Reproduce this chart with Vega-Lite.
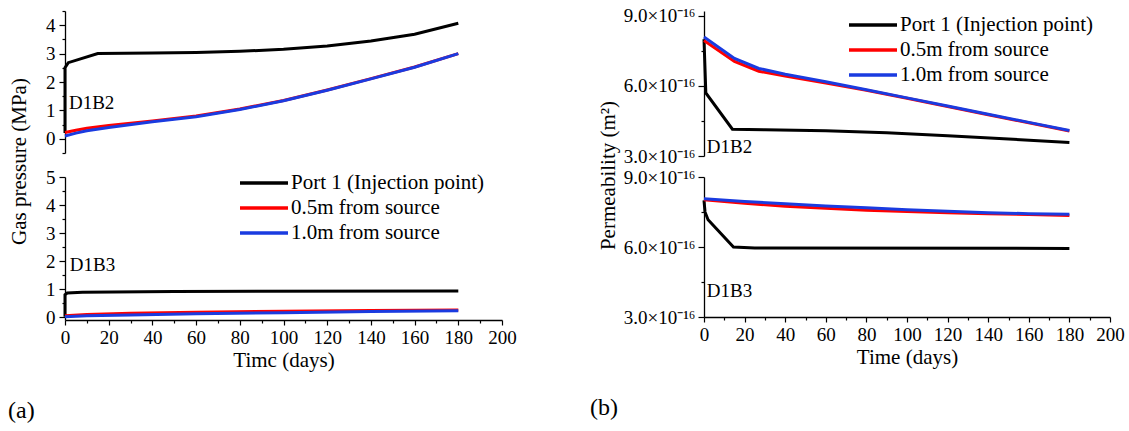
{
  "$schema": "https://vega.github.io/schema/vega-lite/v6.json",
  "padding": {"left": 8, "top": 6, "right": 5, "bottom": 5},
  "background": "white",
  "config": {
    "font": "Liberation Serif",
    "view": {"stroke": null},
    "axis": {
      "domainColor": "#000", "domainWidth": 1.3, "tickColor": "#000", "tickWidth": 1.2,
      "labelColor": "#000", "titleColor": "#000", "labelFont": "Liberation Serif", "titleFont": "Liberation Serif",
      "labelFontSize": 19, "titleFontSize": 21, "titleFontWeight": "normal", "grid": false,
      "labelFlush": false, "labelOverlap": false
    },
    "legend": {
      "orient": "none", "symbolType": "stroke", "symbolSize": 2304, "symbolStrokeWidth": 3.5,
      "labelFont": "Liberation Serif", "labelFontSize": 21, "labelColor": "#000", "labelLimit": 400,
      "clipHeight": 20, "rowPadding": 4, "labelOffset": 1, "padding": 0
    },
    "title": {"font": "Liberation Serif", "fontSize": 24, "fontWeight": "normal", "color": "#000"}
  },
  "datasets": {
    "lines": [
      {"panel": "at", "series": "Port 1 (Injection point)", "ord": 1, "day": 0, "value": 0.2},
      {"panel": "at", "series": "Port 1 (Injection point)", "ord": 2, "day": 0, "value": 2.5},
      {"panel": "at", "series": "Port 1 (Injection point)", "ord": 3, "day": 1.5, "value": 2.68},
      {"panel": "at", "series": "Port 1 (Injection point)", "ord": 4, "day": 15, "value": 3.0},
      {"panel": "at", "series": "Port 1 (Injection point)", "ord": 5, "day": 40, "value": 3.02},
      {"panel": "at", "series": "Port 1 (Injection point)", "ord": 6, "day": 60, "value": 3.04},
      {"panel": "at", "series": "Port 1 (Injection point)", "ord": 7, "day": 80, "value": 3.08},
      {"panel": "at", "series": "Port 1 (Injection point)", "ord": 8, "day": 100, "value": 3.15},
      {"panel": "at", "series": "Port 1 (Injection point)", "ord": 9, "day": 120, "value": 3.27},
      {"panel": "at", "series": "Port 1 (Injection point)", "ord": 10, "day": 140, "value": 3.44},
      {"panel": "at", "series": "Port 1 (Injection point)", "ord": 11, "day": 160, "value": 3.68},
      {"panel": "at", "series": "Port 1 (Injection point)", "ord": 12, "day": 180, "value": 4.07},
      {"panel": "at", "series": "0.5m from source", "ord": 1, "day": 0, "value": 0.22},
      {"panel": "at", "series": "0.5m from source", "ord": 2, "day": 5, "value": 0.3},
      {"panel": "at", "series": "0.5m from source", "ord": 3, "day": 10, "value": 0.37},
      {"panel": "at", "series": "0.5m from source", "ord": 4, "day": 20, "value": 0.47},
      {"panel": "at", "series": "0.5m from source", "ord": 5, "day": 40, "value": 0.63},
      {"panel": "at", "series": "0.5m from source", "ord": 6, "day": 60, "value": 0.8},
      {"panel": "at", "series": "0.5m from source", "ord": 7, "day": 80, "value": 1.05},
      {"panel": "at", "series": "0.5m from source", "ord": 8, "day": 100, "value": 1.35},
      {"panel": "at", "series": "0.5m from source", "ord": 9, "day": 120, "value": 1.72},
      {"panel": "at", "series": "0.5m from source", "ord": 10, "day": 140, "value": 2.12},
      {"panel": "at", "series": "0.5m from source", "ord": 11, "day": 160, "value": 2.53},
      {"panel": "at", "series": "0.5m from source", "ord": 12, "day": 180, "value": 3.0},
      {"panel": "at", "series": "1.0m from source", "ord": 1, "day": 0, "value": 0.1},
      {"panel": "at", "series": "1.0m from source", "ord": 2, "day": 5, "value": 0.2},
      {"panel": "at", "series": "1.0m from source", "ord": 3, "day": 10, "value": 0.28},
      {"panel": "at", "series": "1.0m from source", "ord": 4, "day": 20, "value": 0.4},
      {"panel": "at", "series": "1.0m from source", "ord": 5, "day": 40, "value": 0.6},
      {"panel": "at", "series": "1.0m from source", "ord": 6, "day": 60, "value": 0.78},
      {"panel": "at", "series": "1.0m from source", "ord": 7, "day": 80, "value": 1.03},
      {"panel": "at", "series": "1.0m from source", "ord": 8, "day": 100, "value": 1.34},
      {"panel": "at", "series": "1.0m from source", "ord": 9, "day": 120, "value": 1.71},
      {"panel": "at", "series": "1.0m from source", "ord": 10, "day": 140, "value": 2.11},
      {"panel": "at", "series": "1.0m from source", "ord": 11, "day": 160, "value": 2.52},
      {"panel": "at", "series": "1.0m from source", "ord": 12, "day": 180, "value": 3.0},

      {"panel": "ab", "series": "Port 1 (Injection point)", "ord": 1, "day": 0, "value": 0.02},
      {"panel": "ab", "series": "Port 1 (Injection point)", "ord": 2, "day": 0, "value": 0.8},
      {"panel": "ab", "series": "Port 1 (Injection point)", "ord": 3, "day": 1, "value": 0.86},
      {"panel": "ab", "series": "Port 1 (Injection point)", "ord": 4, "day": 8, "value": 0.89},
      {"panel": "ab", "series": "Port 1 (Injection point)", "ord": 5, "day": 50, "value": 0.92},
      {"panel": "ab", "series": "Port 1 (Injection point)", "ord": 6, "day": 180, "value": 0.93},
      {"panel": "ab", "series": "0.5m from source", "ord": 1, "day": 0, "value": 0.05},
      {"panel": "ab", "series": "0.5m from source", "ord": 2, "day": 10, "value": 0.1},
      {"panel": "ab", "series": "0.5m from source", "ord": 3, "day": 30, "value": 0.14},
      {"panel": "ab", "series": "0.5m from source", "ord": 4, "day": 60, "value": 0.18},
      {"panel": "ab", "series": "0.5m from source", "ord": 5, "day": 100, "value": 0.21},
      {"panel": "ab", "series": "0.5m from source", "ord": 6, "day": 140, "value": 0.24},
      {"panel": "ab", "series": "0.5m from source", "ord": 7, "day": 180, "value": 0.26},
      {"panel": "ab", "series": "1.0m from source", "ord": 1, "day": 0, "value": 0.02},
      {"panel": "ab", "series": "1.0m from source", "ord": 2, "day": 10, "value": 0.05},
      {"panel": "ab", "series": "1.0m from source", "ord": 3, "day": 30, "value": 0.08},
      {"panel": "ab", "series": "1.0m from source", "ord": 4, "day": 60, "value": 0.12},
      {"panel": "ab", "series": "1.0m from source", "ord": 5, "day": 100, "value": 0.16},
      {"panel": "ab", "series": "1.0m from source", "ord": 6, "day": 140, "value": 0.2},
      {"panel": "ab", "series": "1.0m from source", "ord": 7, "day": 180, "value": 0.23},

      {"panel": "bt", "series": "Port 1 (Injection point)", "ord": 1, "day": 0, "value": 8.0e-16},
      {"panel": "bt", "series": "Port 1 (Injection point)", "ord": 2, "day": 0.9, "value": 5.7e-16},
      {"panel": "bt", "series": "Port 1 (Injection point)", "ord": 3, "day": 14, "value": 4.15e-16},
      {"panel": "bt", "series": "Port 1 (Injection point)", "ord": 4, "day": 30, "value": 4.12e-16},
      {"panel": "bt", "series": "Port 1 (Injection point)", "ord": 5, "day": 60, "value": 4.08e-16},
      {"panel": "bt", "series": "Port 1 (Injection point)", "ord": 6, "day": 90, "value": 4.0e-16},
      {"panel": "bt", "series": "Port 1 (Injection point)", "ord": 7, "day": 120, "value": 3.87e-16},
      {"panel": "bt", "series": "Port 1 (Injection point)", "ord": 8, "day": 150, "value": 3.73e-16},
      {"panel": "bt", "series": "Port 1 (Injection point)", "ord": 9, "day": 180, "value": 3.58e-16},
      {"panel": "bt", "series": "0.5m from source", "ord": 1, "day": 0, "value": 7.95e-16},
      {"panel": "bt", "series": "0.5m from source", "ord": 2, "day": 15, "value": 7.05e-16},
      {"panel": "bt", "series": "0.5m from source", "ord": 3, "day": 27, "value": 6.63e-16},
      {"panel": "bt", "series": "0.5m from source", "ord": 4, "day": 40, "value": 6.42e-16},
      {"panel": "bt", "series": "0.5m from source", "ord": 5, "day": 60, "value": 6.13e-16},
      {"panel": "bt", "series": "0.5m from source", "ord": 6, "day": 80, "value": 5.82e-16},
      {"panel": "bt", "series": "0.5m from source", "ord": 7, "day": 100, "value": 5.47e-16},
      {"panel": "bt", "series": "0.5m from source", "ord": 8, "day": 120, "value": 5.12e-16},
      {"panel": "bt", "series": "0.5m from source", "ord": 9, "day": 140, "value": 4.77e-16},
      {"panel": "bt", "series": "0.5m from source", "ord": 10, "day": 160, "value": 4.42e-16},
      {"panel": "bt", "series": "0.5m from source", "ord": 11, "day": 180, "value": 4.07e-16},
      {"panel": "bt", "series": "1.0m from source", "ord": 1, "day": 0, "value": 8.1e-16},
      {"panel": "bt", "series": "1.0m from source", "ord": 2, "day": 15, "value": 7.18e-16},
      {"panel": "bt", "series": "1.0m from source", "ord": 3, "day": 27, "value": 6.75e-16},
      {"panel": "bt", "series": "1.0m from source", "ord": 4, "day": 40, "value": 6.5e-16},
      {"panel": "bt", "series": "1.0m from source", "ord": 5, "day": 60, "value": 6.18e-16},
      {"panel": "bt", "series": "1.0m from source", "ord": 6, "day": 80, "value": 5.84e-16},
      {"panel": "bt", "series": "1.0m from source", "ord": 7, "day": 100, "value": 5.49e-16},
      {"panel": "bt", "series": "1.0m from source", "ord": 8, "day": 120, "value": 5.14e-16},
      {"panel": "bt", "series": "1.0m from source", "ord": 9, "day": 140, "value": 4.79e-16},
      {"panel": "bt", "series": "1.0m from source", "ord": 10, "day": 160, "value": 4.44e-16},
      {"panel": "bt", "series": "1.0m from source", "ord": 11, "day": 180, "value": 4.09e-16},

      {"panel": "bb", "series": "Port 1 (Injection point)", "ord": 1, "day": 0, "value": 8.0e-16},
      {"panel": "bb", "series": "Port 1 (Injection point)", "ord": 2, "day": 0.5, "value": 7.5e-16},
      {"panel": "bb", "series": "Port 1 (Injection point)", "ord": 3, "day": 2, "value": 7.17e-16},
      {"panel": "bb", "series": "Port 1 (Injection point)", "ord": 4, "day": 14.5, "value": 6.0e-16},
      {"panel": "bb", "series": "Port 1 (Injection point)", "ord": 5, "day": 25, "value": 5.96e-16},
      {"panel": "bb", "series": "Port 1 (Injection point)", "ord": 6, "day": 180, "value": 5.94e-16},
      {"panel": "bb", "series": "0.5m from source", "ord": 1, "day": 0, "value": 8.02e-16},
      {"panel": "bb", "series": "0.5m from source", "ord": 2, "day": 20, "value": 7.87e-16},
      {"panel": "bb", "series": "0.5m from source", "ord": 3, "day": 40, "value": 7.75e-16},
      {"panel": "bb", "series": "0.5m from source", "ord": 4, "day": 60, "value": 7.66e-16},
      {"panel": "bb", "series": "0.5m from source", "ord": 5, "day": 80, "value": 7.58e-16},
      {"panel": "bb", "series": "0.5m from source", "ord": 6, "day": 100, "value": 7.52e-16},
      {"panel": "bb", "series": "0.5m from source", "ord": 7, "day": 120, "value": 7.47e-16},
      {"panel": "bb", "series": "0.5m from source", "ord": 8, "day": 140, "value": 7.43e-16},
      {"panel": "bb", "series": "0.5m from source", "ord": 9, "day": 160, "value": 7.39e-16},
      {"panel": "bb", "series": "0.5m from source", "ord": 10, "day": 180, "value": 7.35e-16},
      {"panel": "bb", "series": "1.0m from source", "ord": 1, "day": 0, "value": 8.07e-16},
      {"panel": "bb", "series": "1.0m from source", "ord": 2, "day": 20, "value": 7.95e-16},
      {"panel": "bb", "series": "1.0m from source", "ord": 3, "day": 40, "value": 7.85e-16},
      {"panel": "bb", "series": "1.0m from source", "ord": 4, "day": 60, "value": 7.76e-16},
      {"panel": "bb", "series": "1.0m from source", "ord": 5, "day": 80, "value": 7.68e-16},
      {"panel": "bb", "series": "1.0m from source", "ord": 6, "day": 100, "value": 7.6e-16},
      {"panel": "bb", "series": "1.0m from source", "ord": 7, "day": 120, "value": 7.53e-16},
      {"panel": "bb", "series": "1.0m from source", "ord": 8, "day": 140, "value": 7.47e-16},
      {"panel": "bb", "series": "1.0m from source", "ord": 9, "day": 160, "value": 7.43e-16},
      {"panel": "bb", "series": "1.0m from source", "ord": 10, "day": 180, "value": 7.4e-16}
    ],
    "labels": [
      {"panel": "at", "label": "D1B2", "day": 1.8, "value": 1.27},
      {"panel": "ab", "label": "D1B3", "day": 2.2, "value": 1.87},
      {"panel": "bt", "label": "D1B2", "day": 1.4, "value": 3.38e-16},
      {"panel": "bb", "label": "D1B3", "day": 1.4, "value": 4.1e-16}
    ]
  },
  "columns": 2,
  "spacing": {"row": 21, "column": 202},
  "bounds": "flush",
  "align": "none",
  "resolve": {"scale": {"color": "independent"}},
  "concat": [
    {
      "width": 437, "height": 142,
      "resolve": {"axis": {"y": "independent"}},
      "layer": [
        {
          "data": {"name": "lines"},
          "transform": [{"filter": "datum.panel === 'at'"}],
          "mark": {"type": "line", "strokeWidth": 3},
          "encoding": {
            "x": {"field": "day", "type": "quantitative", "scale": {"domain": [0, 200], "nice": false, "zero": false}, "axis": null},
            "y": {"field": "value", "type": "quantitative", "scale": {"domain": [-0.5, 4.5], "nice": false, "zero": false},
                  "axis": {"orient": "left", "values": [0, 1, 2, 3, 4], "tickSize": 6, "labelPadding": 4,
                           "title": "Gas pressure (MPa)", "titleX": -46, "titleY": 150, "titleBaseline": "middle"}},
            "color": {"field": "series", "type": "nominal",
                      "scale": {"domain": ["Port 1 (Injection point)", "0.5m from source", "1.0m from source"], "range": ["#000000", "#ff0000", "#1a3be0"]},
                      "legend": null},
            "order": {"field": "ord", "type": "quantitative"}
          }
        },
        {
          "data": {"name": "labels"},
          "transform": [{"filter": "datum.panel === 'at'"}],
          "mark": {"type": "text", "align": "left", "baseline": "middle", "fontSize": 19, "font": "Liberation Serif", "color": "#000"},
          "encoding": {
            "x": {"field": "day", "type": "quantitative", "axis": null},
            "y": {"field": "value", "type": "quantitative",
                  "axis": {"orient": "left", "values": [-0.5, 0.5, 1.5, 2.5, 3.5, 4.5], "tickSize": 3, "labels": false, "domain": false, "title": null}},
            "text": {"field": "label"}
          }
        }
      ]
    },
    {
      "width": 406, "height": 145,
      "resolve": {"axis": {"y": "independent"}},
      "layer": [
        {
          "data": {"name": "lines"},
          "transform": [{"filter": "datum.panel === 'bt'"}],
          "mark": {"type": "line", "strokeWidth": 3},
          "encoding": {
            "x": {"field": "day", "type": "quantitative", "scale": {"domain": [0, 200], "nice": false, "zero": false}, "axis": null},
            "y": {"field": "value", "type": "quantitative", "scale": {"domain": [3e-16, 9.21e-16], "nice": false, "zero": false},
                  "axis": {"orient": "left", "values": [3e-16, 6e-16, 9e-16],
                           "labelExpr": "format(datum.value*1e16, '.1f') + '×10⁻¹⁶'",
                           "tickSize": 6, "labelPadding": 3,
                           "title": "Permeability (m²)", "titleX": -96, "titleY": 164, "titleBaseline": "middle"}},
            "color": {"field": "series", "type": "nominal",
                      "scale": {"domain": ["Port 1 (Injection point)", "0.5m from source", "1.0m from source"], "range": ["#000000", "#ff0000", "#1a3be0"]},
                      "legend": {"title": null, "legendX": 143, "legendY": 4}},
            "order": {"field": "ord", "type": "quantitative"}
          }
        },
        {
          "data": {"name": "labels"},
          "transform": [{"filter": "datum.panel === 'bt'"}],
          "mark": {"type": "text", "align": "left", "baseline": "middle", "fontSize": 19, "font": "Liberation Serif", "color": "#000"},
          "encoding": {
            "x": {"field": "day", "type": "quantitative", "axis": null},
            "y": {"field": "value", "type": "quantitative",
                  "axis": {"orient": "left", "values": [4.5e-16, 7.5e-16], "tickSize": 3, "labels": false, "domain": false, "title": null}},
            "text": {"field": "label"}
          }
        }
      ]
    },
    {
      "width": 437, "height": 143,
      "title": {"text": "(a)", "orient": "bottom", "anchor": "start", "frame": "group", "dx": -57, "offset": 29},
      "resolve": {"axis": {"x": "independent", "y": "independent"}},
      "layer": [
        {
          "data": {"name": "lines"},
          "transform": [{"filter": "datum.panel === 'ab'"}],
          "mark": {"type": "line", "strokeWidth": 3},
          "encoding": {
            "x": {"field": "day", "type": "quantitative", "scale": {"domain": [0, 200], "nice": false, "zero": false},
                  "axis": {"orient": "bottom", "values": [0, 20, 40, 60, 80, 100, 120, 140, 160, 180, 200],
                           "tickSize": 5, "labelPadding": 3, "title": "Timc (days)", "titlePadding": 2}},
            "y": {"field": "value", "type": "quantitative", "scale": {"domain": [-0.1, 5], "nice": false, "zero": false},
                  "axis": {"orient": "left", "values": [0, 1, 2, 3, 4, 5], "tickSize": 6, "labelPadding": 4, "title": null}},
            "color": {"field": "series", "type": "nominal",
                      "scale": {"domain": ["Port 1 (Injection point)", "0.5m from source", "1.0m from source"], "range": ["#000000", "#ff0000", "#1a3be0"]},
                      "legend": {"title": null, "legendX": 173, "legendY": -4}},
            "order": {"field": "ord", "type": "quantitative"}
          }
        },
        {
          "data": {"name": "labels"},
          "transform": [{"filter": "datum.panel === 'ab'"}],
          "mark": {"type": "text", "align": "left", "baseline": "middle", "fontSize": 19, "font": "Liberation Serif", "color": "#000"},
          "encoding": {
            "x": {"field": "day", "type": "quantitative",
                  "axis": {"orient": "bottom", "values": [10, 30, 50, 70, 90, 110, 130, 150, 170, 190], "tickSize": 3, "labels": false, "domain": false, "title": null}},
            "y": {"field": "value", "type": "quantitative",
                  "axis": {"orient": "left", "values": [0.5, 1.5, 2.5, 3.5, 4.5], "tickSize": 3, "labels": false, "domain": false, "title": null}},
            "text": {"field": "label"}
          }
        }
      ]
    },
    {
      "width": 406, "height": 140,
      "title": {"text": "(b)", "orient": "bottom", "anchor": "start", "frame": "group", "dx": -114, "offset": 29},
      "resolve": {"axis": {"x": "independent", "y": "independent"}},
      "layer": [
        {
          "data": {"name": "lines"},
          "transform": [{"filter": "datum.panel === 'bb'"}],
          "mark": {"type": "line", "strokeWidth": 3},
          "encoding": {
            "x": {"field": "day", "type": "quantitative", "scale": {"domain": [0, 200], "nice": false, "zero": false},
                  "axis": {"orient": "bottom", "values": [0, 20, 40, 60, 80, 100, 120, 140, 160, 180, 200],
                           "tickSize": 5, "labelPadding": 3, "title": "Time (days)", "titlePadding": 2}},
            "y": {"field": "value", "type": "quantitative", "scale": {"domain": [3e-16, 9e-16], "nice": false, "zero": false},
                  "axis": {"orient": "left", "values": [3e-16, 6e-16, 9e-16],
                           "labelExpr": "format(datum.value*1e16, '.1f') + '×10⁻¹⁶'",
                           "tickSize": 6, "labelPadding": 3, "title": null}},
            "color": {"field": "series", "type": "nominal",
                      "scale": {"domain": ["Port 1 (Injection point)", "0.5m from source", "1.0m from source"], "range": ["#000000", "#ff0000", "#1a3be0"]},
                      "legend": null},
            "order": {"field": "ord", "type": "quantitative"}
          }
        },
        {
          "data": {"name": "labels"},
          "transform": [{"filter": "datum.panel === 'bb'"}],
          "mark": {"type": "text", "align": "left", "baseline": "middle", "fontSize": 19, "font": "Liberation Serif", "color": "#000"},
          "encoding": {
            "x": {"field": "day", "type": "quantitative",
                  "axis": {"orient": "bottom", "values": [10, 30, 50, 70, 90, 110, 130, 150, 170, 190], "tickSize": 3, "labels": false, "domain": false, "title": null}},
            "y": {"field": "value", "type": "quantitative",
                  "axis": {"orient": "left", "values": [4.5e-16, 7.5e-16], "tickSize": 3, "labels": false, "domain": false, "title": null}},
            "text": {"field": "label"}
          }
        }
      ]
    }
  ]
}
